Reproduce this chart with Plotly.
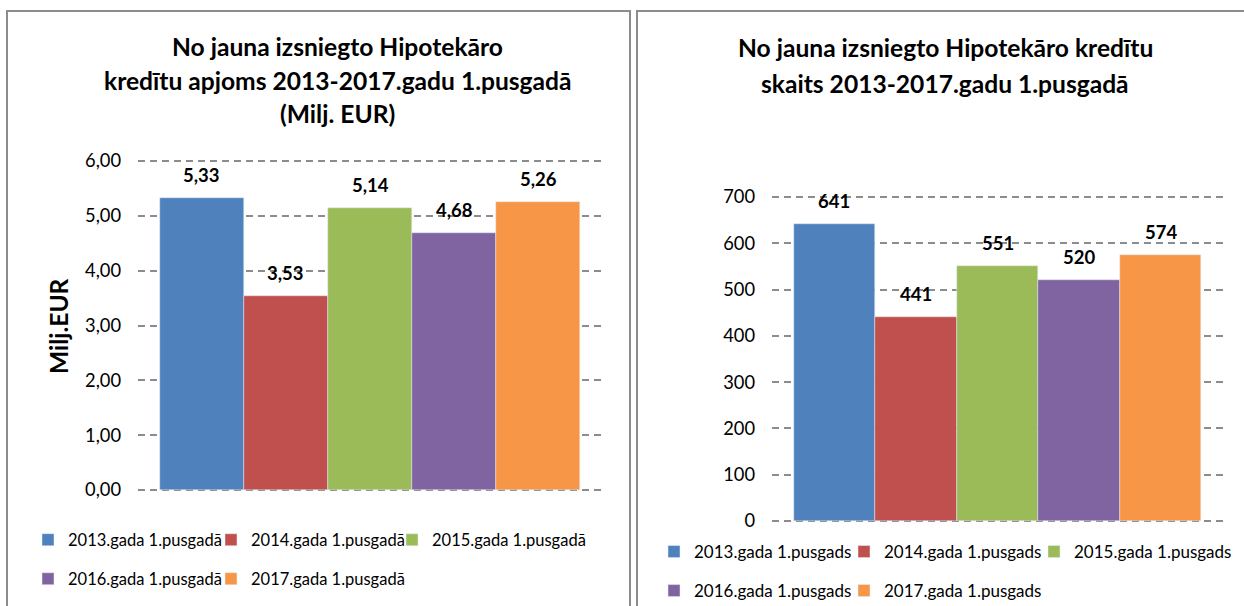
import plotly.graph_objects as go

# ---------------- data ----------------
amount_series = ["2013.gada 1.pusgadā", "2014.gada 1.pusgadā", "2015.gada 1.pusgadā",
                 "2016.gada 1.pusgadā", "2017.gada 1.pusgadā"]
amount_values = [5.33, 3.53, 5.14, 4.68, 5.26]

count_series = ["2013.gada 1.pusgads", "2014.gada 1.pusgads", "2015.gada 1.pusgads",
                "2016.gada 1.pusgads", "2017.gada 1.pusgads"]
count_values = [641, 441, 551, 520, 574]

colors = ["#4F81BD", "#C0504D", "#9BBB59", "#8064A2", "#F79646"]

left_title = ["No jauna izsniegto Hipotekāro",
              "kredītu apjoms 2013-2017.gadu 1.pusgadā",
              "(Milj. EUR)"]
right_title = ["No jauna izsniegto Hipotekāro kredītu",
               "skaits 2013-2017.gadu 1.pusgadā"]
left_ytitle = "Milj.EUR"
left_ticks = [0, 1, 2, 3, 4, 5, 6]
right_ticks = [0, 100, 200, 300, 400, 500, 600, 700]
left_max, right_max = 6, 700

# ---------------- layout helpers ----------------
W, H = 1244, 606
FONT = "Lato"


def px(x):
    return x / W


def py(y):
    return 1 - y / H


# legend entry placement (pixel position of the text start, row centre)
left_legend_pos = [(68, 540), (251, 540), (432, 540), (68, 579), (251, 579)]
right_legend_pos = [(694, 552), (884, 552), (1074, 552), (694, 591), (884, 591)]
TEXT_OFFSET = 40
PAD = 3  # px of extra plot area so the edge gridlines are drawn

fig = go.Figure()

# left chart traces
for i, (name, val) in enumerate(zip(amount_series, amount_values)):
    fig.add_trace(go.Bar(
        x=[name], y=[val], name=name, marker_color=colors[i], width=1,
        xaxis="x", yaxis="y", legend="legend" if i == 0 else f"legend{i + 1}",
        hovertemplate="%{x}: %{y:.2f}<extra></extra>"))

# right chart traces
for i, (name, val) in enumerate(zip(count_series, count_values)):
    fig.add_trace(go.Bar(
        x=[name], y=[val], name=name, marker_color=colors[i], width=1,
        xaxis="x2", yaxis="y2", legend=f"legend{i + 6}",
        hovertemplate="%{x}: %{y}<extra></extra>"))

annotations = []
label_font = dict(family=FONT, size=18.5, color="#000000", weight="bold")
# data labels
for name, val in zip(amount_series, amount_values):
    annotations.append(dict(
        x=name, y=val, xref="x", yref="y", text=f"{val:.2f}".replace(".", ","),
        showarrow=False, yanchor="middle", yshift=23, font=label_font))
for name, val in zip(count_series, count_values):
    annotations.append(dict(
        x=name, y=val, xref="x2", yref="y2", text=str(val),
        showarrow=False, yanchor="middle", yshift=23, font=label_font))

# titles
title_font = dict(family=FONT, size=24.6, color="#000000", weight="bold")
for line, yc in zip(left_title, [46, 80, 114]):
    annotations.append(dict(
        x=px(337), y=py(yc), xref="paper", yref="paper", text=line,
        showarrow=False, xanchor="center", yanchor="middle", font=title_font))
for line, yc in zip(right_title, [48, 83]):
    annotations.append(dict(
        x=px(945), y=py(yc), xref="paper", yref="paper", text=line,
        showarrow=False, xanchor="center", yanchor="middle", font=title_font))

# y-axis title of the left chart
annotations.append(dict(
    x=px(58), y=py(326), xref="paper", yref="paper", text=left_ytitle,
    showarrow=False, textangle=-90, xanchor="center", yanchor="middle",
    font=dict(family=FONT, size=24.5, color="#000000", weight="bold")))

# chart frames
border = dict(color="#8C8C8C", width=2)
shapes = [
    dict(type="rect", xref="paper", yref="paper", x0=px(7), x1=px(630),
         y0=py(620), y1=py(11), line=border, layer="below"),
    dict(type="rect", xref="paper", yref="paper", x0=px(637), x1=px(1260),
         y0=py(620), y1=py(11), line=border, layer="below"),
]

grid = dict(showgrid=True, gridcolor="#8C8C8C", gridwidth=2, griddash="7px,5px",
            zeroline=False, showline=False, ticks="",
            tickfont=dict(family=FONT, size=18.3, color="#000000"),
            ticklabelstandoff=16)


def legend_style(size):
    return dict(orientation="h", xanchor="left", yanchor="middle",
                bgcolor="rgba(0,0,0,0)", borderwidth=0,
                font=dict(family=FONT, size=size, color="#000000"))


legends = {}
for i, (tx, ty) in enumerate(left_legend_pos + right_legend_pos):
    key = "legend" if i == 0 else f"legend{i + 1}"
    size = 16.5 if i < 5 else 17
    legends[key] = dict(x=px(tx - TEXT_OFFSET), y=py(ty), **legend_style(size))

# plot areas (pixels): value 0 and max mapped to these rows
l_top, l_bot = 161, 490
r_top, r_bot = 197, 521
l_pad = PAD * left_max / (l_bot - l_top)
r_pad = PAD * right_max / (r_bot - r_top)

fig.update_layout(
    width=W, height=H,
    margin=dict(l=0, r=0, t=0, b=0, autoexpand=False),
    paper_bgcolor="#FFFFFF", plot_bgcolor="#FFFFFF",
    separators=", ",
    barmode="overlay", bargap=0,
    showlegend=True,
    xaxis=dict(domain=[px(138), px(602)], showticklabels=False, showgrid=False,
               zeroline=False, showline=False, range=[-0.757, 4.757]),
    yaxis=dict(domain=[py(l_bot + PAD), py(l_top - PAD)],
               range=[-l_pad, left_max + l_pad], tickvals=left_ticks,
               tickformat=".2f", **grid),
    xaxis2=dict(domain=[px(772), px(1223)], showticklabels=False, showgrid=False,
                zeroline=False, showline=False, range=[-0.764, 4.764], anchor="y2"),
    yaxis2=dict(domain=[py(r_bot + PAD), py(r_top - PAD)],
                range=[-r_pad, right_max + r_pad], tickvals=right_ticks,
                anchor="x2", **grid),
    annotations=annotations,
    shapes=shapes,
    **legends,
)

fig.write_html("out.html", config={"displayModeBar": False},
               post_script="document.body.style.margin='0px';")
